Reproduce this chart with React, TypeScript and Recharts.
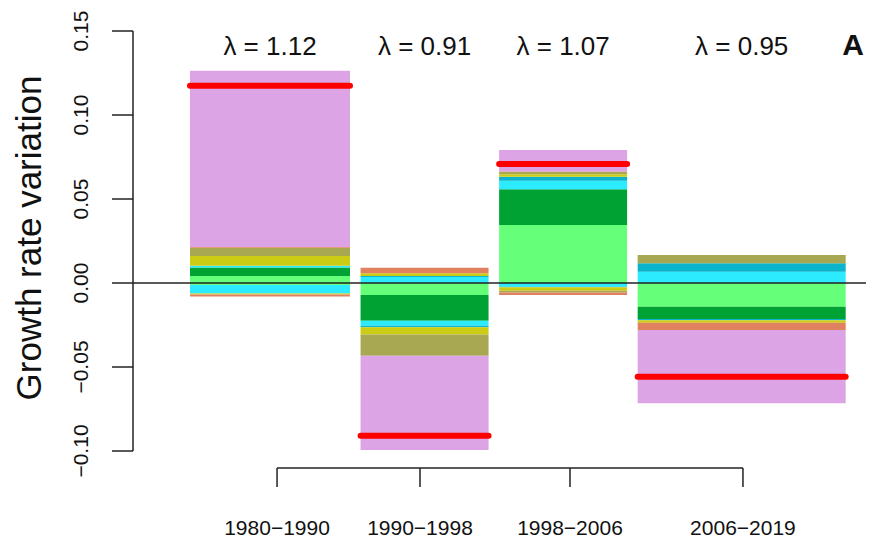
import React from 'react';
import { ComposedChart, XAxis, YAxis, ReferenceArea, ReferenceLine, Line, Scatter } from 'recharts';

const periods = ['1980\u22121990', '1990\u22121998', '1998\u22122006', '2006\u22122019'];
const periodYears = [10, 8, 8, 13];
const lambdas = ['1.12', '0.91', '1.07', '0.95'];
const netChange = [0.1174, -0.0909, 0.0708, -0.0558];
const periodTickAt = [5.44, 14.375, 23.75, 34.56];
const yTicks = [-0.1, -0.05, 0, 0.05, 0.1, 0.15];

// contributions per period, split into the part stacked above and below zero
const lightGreenUp = [0.0042, 0, 0.0345, 0];
const lightGreenDown = [-0.0012, -0.0071, 0, -0.0141];
const darkGreenUp = [0.0051, 0, 0.0213, 0];
const darkGreenDown = [0, -0.0153, 0, -0.0073];
const cyanUp = [0.001, 0.0035, 0.0051, 0.0067];
const cyanDown = [-0.005, -0.003, -0.0022, 0];
const tealUp = [0, 0.0007, 0.0024, 0.005];
const tealDown = [0, -0.001, -0.0004, -0.0008];
const yellowUp = [0.0058, 0.0016, 0.0015, 0];
const yellowDown = [-0.0006, -0.0042, -0.002, -0.0014];
const oliveUp = [0.0049, 0, 0.0012, 0.005];
const oliveDown = [0, -0.0127, -0.001, 0];
const orangeUp = [0.0005, 0.0033, 0.0003, 0];
const orangeDown = [-0.0012, 0, -0.0015, -0.0044];
const pinkUp = [0.1049, 0, 0.0129, 0];
const pinkDown = [0, -0.0561, 0, -0.0436];

const layers = [
  { color: '#66FF7A', up: lightGreenUp, down: lightGreenDown },
  { color: '#00A333', up: darkGreenUp, down: darkGreenDown },
  { color: '#2DEBFF', up: cyanUp, down: cyanDown },
  { color: '#0AB4CC', up: tealUp, down: tealDown },
  { color: '#CCCC14', up: yellowUp, down: yellowDown },
  { color: '#A8A852', up: oliveUp, down: oliveDown },
  { color: '#E0825F', up: orangeUp, down: orangeDown },
  { color: '#DCA4E4', up: pinkUp, down: pinkDown },
];

const W = 880;
const H = 543;
const M = { top: 31, right: 14, bottom: 0, left: 0 };
const Y_MIN = -0.1;
const Y_MAX = 0.15;
const X_MIN = -3.5625;
const X_MAX = 42.25;
const GAP = 0.66;
const FONT = '"Liberation Sans", Arial, sans-serif';
const INK = '#222';

const plotH = H - M.top - 92;
const yPerPx = (Y_MAX - Y_MIN) / plotH;
const AXIS_Y = Y_MIN - 17 * yPerPx;

const starts = periodYears.map((_, i) => periodYears.slice(0, i).reduce((a, b) => a + b, 0) + i * GAP);
const ends = starts.map((s, i) => s + periodYears[i]);

const segments: { x1: number; x2: number; y1: number; y2: number; color: string }[] = [];
periods.forEach((_, i) => {
  let up = 0;
  let down = 0;
  layers.forEach((l) => {
    if (l.up[i] > 0) {
      segments.push({ x1: starts[i], x2: ends[i], y1: up, y2: up + l.up[i], color: l.color });
      up += l.up[i];
    }
    if (l.down[i] < 0) {
      segments.push({ x1: starts[i], x2: ends[i], y1: down + l.down[i], y2: down, color: l.color });
      down += l.down[i];
    }
  });
});

const netLine = periods.flatMap((_, i) => [
  { x: starts[i], y: netChange[i] },
  { x: ends[i], y: netChange[i] },
  { x: ends[i] + GAP / 2, y: null },
]);

const lambdaPoints = periods.map((_, i) => ({ x: (starts[i] + ends[i]) / 2, y: Y_MAX, text: `\u03bb = ${lambdas[i]}` }));

const fmtY = (v: number) => (v < 0 ? '\u2212' : '') + Math.abs(v).toFixed(2);

const YTick = (props: any) => {
  const { x, y, payload } = props;
  const bx = x - 22;
  return (
    <text x={bx} y={y} transform={`rotate(-90, ${bx}, ${y})`} textAnchor="middle" fontSize={21} fontFamily={FONT} fill="#111">
      {fmtY(payload.value)}
    </text>
  );
};

const XTick = (props: any) => {
  const { x, y, index } = props;
  return (
    <g>
      <line x1={x} x2={x} y1={y + 17} y2={y + 36} stroke={INK} strokeWidth={1.5} />
      <text x={x} y={y + 84} textAnchor="middle" fontSize={21} fontFamily={FONT} fill="#111">
        {periods[index]}
      </text>
    </g>
  );
};

const YTitle = (props: any) => {
  const vb = props.viewBox || { y: M.top, height: plotH };
  const cy = vb.y + vb.height / 2 - 3;
  return (
    <text x={41} y={cy} transform={`rotate(-90, 41, ${cy})`} textAnchor="middle" fontSize={35} fontFamily={FONT} fill="#111">
      Growth rate variation
    </text>
  );
};

const LambdaLabel = (props: any) => (
  <text x={props.cx} y={props.cy + 24} textAnchor="middle" fontSize={26} fontFamily={FONT} fill="#111">
    {props.payload.text}
  </text>
);

export default function App() {
  return (
    <div style={{ width: W, height: H }}>
      <style>{'body{margin:0}'}</style>
      <ComposedChart width={W} height={H} margin={M}>
        <XAxis
          type="number"
          dataKey="x"
          domain={[X_MIN, X_MAX]}
          allowDataOverflow
          ticks={periodTickAt}
          interval={0}
          axisLine={false}
          tickLine={false}
          tickSize={0}
          tickMargin={0}
          height={92}
          tick={<XTick />}
        />
        <YAxis
          type="number"
          domain={[Y_MIN, Y_MAX]}
          allowDataOverflow
          ticks={yTicks}
          interval={0}
          width={133}
          tickSize={21}
          tickMargin={2}
          axisLine={{ stroke: INK, strokeWidth: 1.5 }}
          tickLine={{ stroke: INK, strokeWidth: 1.5 }}
          tick={<YTick />}
          label={<YTitle />}
        />
        {segments.map((s, k) => (
          <ReferenceArea
            key={k}
            x1={s.x1}
            x2={s.x2}
            y1={s.y1}
            y2={s.y2}
            fill={s.color}
            fillOpacity={1}
            stroke="none"
            ifOverflow="visible"
          />
        ))}
        <ReferenceLine y={0} stroke={INK} strokeWidth={1.5} />
        <ReferenceLine
          segment={[
            { x: periodTickAt[0], y: AXIS_Y },
            { x: periodTickAt[periodTickAt.length - 1], y: AXIS_Y },
          ]}
          stroke={INK}
          strokeWidth={1.5}
          ifOverflow="visible"
        />
        <Line
          data={netLine}
          dataKey="y"
          stroke="#FF0000"
          strokeWidth={6}
          strokeLinecap="round"
          dot={false}
          activeDot={false}
          connectNulls={false}
          isAnimationActive={false}
        />
        <Scatter data={lambdaPoints} dataKey="y" shape={<LambdaLabel />} isAnimationActive={false} />
        <text x={853} y={55} textAnchor="middle" fontSize={30} fontWeight="bold" fontFamily={FONT} fill="#111">
          A
        </text>
      </ComposedChart>
    </div>
  );
}
